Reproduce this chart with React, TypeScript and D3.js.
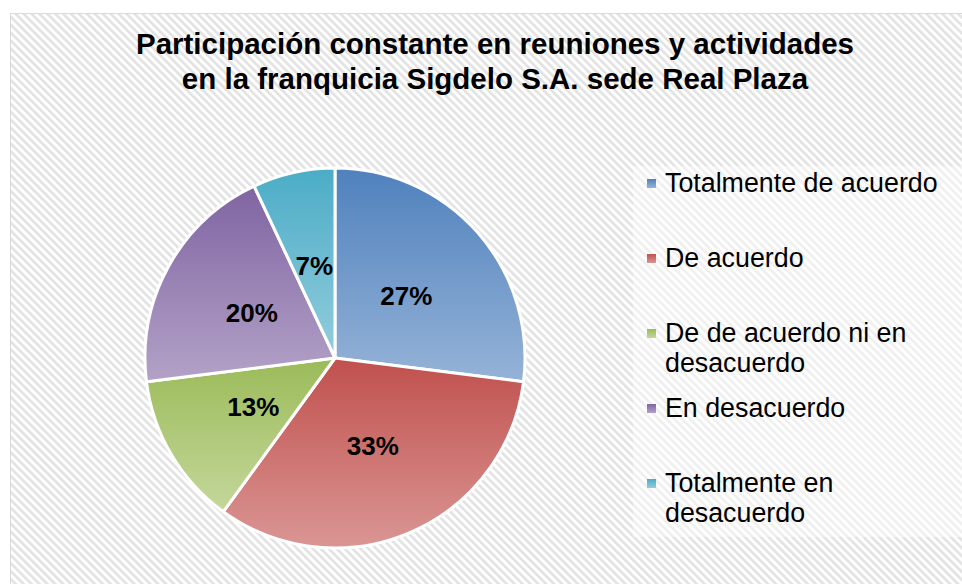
import * as d3 from "d3";
import React, { useRef, useEffect } from "react";

const width = 962;
const height = 584;

// data
const categories = [
  "Totalmente de acuerdo",
  "De acuerdo",
  "De de acuerdo ni en desacuerdo",
  "En desacuerdo",
  "Totalmente en desacuerdo",
];
const values = [27, 33, 13, 20, 7];
const legendLines = [
  ["Totalmente de acuerdo"],
  ["De acuerdo"],
  ["De de acuerdo ni en", "desacuerdo"],
  ["En desacuerdo"],
  ["Totalmente en", "desacuerdo"],
];
const titleLines = [
  "Participación constante en reuniones y actividades",
  "en la franquicia Sigdelo S.A. sede Real Plaza",
];
const topColors = ["#4F81BD", "#C0504D", "#9BBB59", "#8064A2", "#4BACC6"];
const bottomColors = ["#95B3D7", "#DA9694", "#C4D79B", "#B3A2C7", "#93CDDD"];

const cx = 335;
const cy = 358;
const radius = 190;

export default function App() {
  const ref = useRef(null);

  useEffect(() => {
    const svg = d3.select(ref.current);
    svg.selectAll("*").remove();
    svg.attr("width", width).attr("height", height);

    const defs = svg.append("defs");

    // hatched background
    const pat = defs
      .append("pattern")
      .attr("id", "hatch")
      .attr("patternUnits", "userSpaceOnUse")
      .attr("width", 5.6)
      .attr("height", 5.6)
      .attr("patternTransform", "rotate(-45)");
    pat.append("rect").attr("width", 5.6).attr("height", 5.6).attr("fill", "#ffffff");
    pat.append("rect").attr("width", 2.6).attr("height", 5.6).attr("fill", "#e2e2e2");

    // gradients per slice
    topColors.forEach((c, i) => {
      const g = defs
        .append("linearGradient")
        .attr("id", "grad" + i)
        .attr("x1", 0)
        .attr("y1", 0)
        .attr("x2", 0)
        .attr("y2", 1);
      g.append("stop").attr("offset", "0%").attr("stop-color", c);
      g.append("stop").attr("offset", "100%").attr("stop-color", bottomColors[i]);
    });

    // chart area
    svg
      .append("rect")
      .attr("x", 10.5)
      .attr("y", 13.5)
      .attr("width", width)
      .attr("height", height)
      .attr("fill", "url(#hatch)")
      .attr("stroke", "#d9d9d9")
      .attr("stroke-width", 1);

    // Title
    svg
      .append("g")
      .selectAll("text")
      .data(titleLines)
      .join("text")
      .attr("x", 495)
      .attr("y", (d, i) => 54 + i * 35)
      .attr("text-anchor", "middle")
      .style("font-family", "'Liberation Sans', Arial, sans-serif")
      .style("font-weight", "bold")
      .style("font-size", "29.5px")
      .attr("fill", "#000")
      .text((d) => d);

    // Pie
    const pie = d3
      .pie<number>()
      .sort(null)
      .value((d) => d);
    const arcs = pie(values);
    const arc = d3.arc<any>().innerRadius(0).outerRadius(radius);
    const labelArc = d3.arc<any>().innerRadius(radius * 0.5).outerRadius(radius * 0.5);

    const pg = svg.append("g").attr("transform", `translate(${cx},${cy})`);
    pg.selectAll("path")
      .data(arcs)
      .join("path")
      .attr("d", arc)
      .attr("fill", (d, i) => "url(#grad" + i + ")")
      .attr("stroke", "#fff")
      .attr("stroke-width", 3)
      .attr("stroke-linejoin", "round");

    pg.selectAll("text")
      .data(arcs)
      .join("text")
      .attr("transform", (d) => `translate(${labelArc.centroid(d)})`)
      .attr("text-anchor", "middle")
      .attr("dy", "0.36em")
      .style("font-family", "'Liberation Sans', Arial, sans-serif")
      .style("font-weight", "bold")
      .style("font-size", "26px")
      .text((d) => d.data + "%");

    // Legend
    svg
      .append("rect")
      .attr("x", 633)
      .attr("y", 166)
      .attr("width", width - 633)
      .attr("height", 537 - 166)
      .attr("fill", "#fff")
      .attr("fill-opacity", 0.45);

    const lg = svg.append("g");
    const items = lg
      .selectAll("g")
      .data(categories)
      .join("g")
      .attr("transform", (d, i) => `translate(647, ${192 + i * 75})`);
    items
      .append("rect")
      .attr("x", 0)
      .attr("y", -13)
      .attr("width", 9)
      .attr("height", 9)
      .attr("fill", (d, i) => "url(#grad" + i + ")");
    items
      .append("text")
      .style("font-family", "'Liberation Sans', Arial, sans-serif")
      .style("font-size", "26.8px")
      .attr("fill", "#000")
      .selectAll("tspan")
      .data((d, i) => legendLines[i])
      .join("tspan")
      .attr("x", 18)
      .attr("y", (d, j) => j * 30)
      .text((d) => d);
  }, []);

  return (
    <div style={{ position: "absolute", left: 0, top: 0 }}>
      <svg ref={ref} style={{ display: "block" }}></svg>
    </div>
  );
}
